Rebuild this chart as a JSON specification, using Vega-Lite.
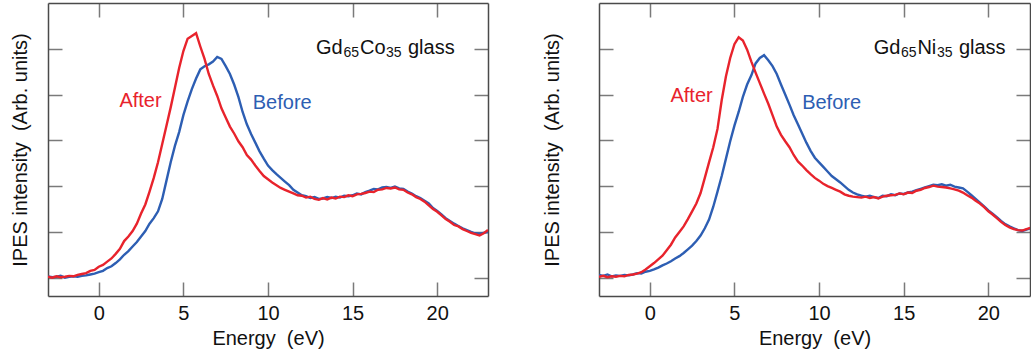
{
  "$schema": "https://vega.github.io/schema/vega-lite/v6.json",
  "padding": {"left": 10, "top": 2, "right": 0, "bottom": 0},
  "spacing": 53,
  "config": {
    "font": "Liberation Sans",
    "view": {"stroke": null},
    "axis": {"grid": false, "tickSize": -14, "tickColor": "#7a7a7a", "tickWidth": 1.5, "domainColor": "#4a4a4a", "domainWidth": 1.5, "labelFontSize": 20, "labelColor": "#111", "titleFontSize": 20, "titleFontWeight": "normal", "titleColor": "#111"}
  },
  "datasets": {
    "co": [
      {"e":-3,"After":0.02,"Before":0.03},{"e":-2.75,"After":0.00,"Before":0.01},{"e":-2.5,"After":0.03,"Before":0.02},{"e":-2.25,"After":0.01,"Before":0.04},
      {"e":-2,"After":0.02,"Before":0.00},{"e":-1.75,"After":0.04,"Before":0.02},{"e":-1.5,"After":0.03,"Before":0.03},{"e":-1.25,"After":0.06,"Before":0.02},
      {"e":-1,"After":0.08,"Before":0.04},{"e":-0.75,"After":0.10,"Before":0.05},{"e":-0.5,"After":0.15,"Before":0.07},{"e":-0.25,"After":0.17,"Before":0.09},
      {"e":0,"After":0.24,"Before":0.12},{"e":0.25,"After":0.28,"Before":0.15},{"e":0.5,"After":0.35,"Before":0.21},{"e":0.75,"After":0.42,"Before":0.25},
      {"e":1,"After":0.52,"Before":0.32},{"e":1.25,"After":0.63,"Before":0.40},{"e":1.5,"After":0.80,"Before":0.50},{"e":1.75,"After":0.90,"Before":0.58},
      {"e":2,"After":1.02,"Before":0.68},{"e":2.25,"After":1.18,"Before":0.78},{"e":2.5,"After":1.40,"Before":0.90},{"e":2.75,"After":1.60,"Before":1.02},
      {"e":3,"After":1.88,"Before":1.18},{"e":3.25,"After":2.18,"Before":1.30},{"e":3.5,"After":2.52,"Before":1.45},{"e":3.75,"After":2.92,"Before":1.72},
      {"e":4,"After":3.32,"Before":2.12},{"e":4.25,"After":3.72,"Before":2.52},{"e":4.5,"After":4.15,"Before":2.88},{"e":4.75,"After":4.58,"Before":3.18},
      {"e":5,"After":4.95,"Before":3.55},{"e":5.25,"After":5.22,"Before":3.85},{"e":5.5,"After":5.28,"Before":4.12},{"e":5.75,"After":5.34,"Before":4.35},
      {"e":6,"After":5.05,"Before":4.55},{"e":6.25,"After":4.78,"Before":4.62},{"e":6.5,"After":4.45,"Before":4.66},{"e":6.75,"After":4.20,"Before":4.72},
      {"e":7,"After":3.97,"Before":4.82},{"e":7.25,"After":3.70,"Before":4.78},{"e":7.5,"After":3.50,"Before":4.62},{"e":7.75,"After":3.30,"Before":4.45},
      {"e":8,"After":3.15,"Before":4.22},{"e":8.25,"After":2.98,"Before":3.95},{"e":8.5,"After":2.85,"Before":3.62},{"e":8.75,"After":2.68,"Before":3.35},
      {"e":9,"After":2.58,"Before":3.14},{"e":9.25,"After":2.45,"Before":2.95},{"e":9.5,"After":2.33,"Before":2.76},{"e":9.75,"After":2.22,"Before":2.60},
      {"e":10,"After":2.15,"Before":2.45},{"e":10.25,"After":2.08,"Before":2.35},{"e":10.5,"After":2.02,"Before":2.26},{"e":10.75,"After":1.96,"Before":2.18},
      {"e":11,"After":1.92,"Before":2.10},{"e":11.25,"After":1.88,"Before":2.02},{"e":11.5,"After":1.84,"Before":1.92},{"e":11.75,"After":1.80,"Before":1.86},
      {"e":12,"After":1.79,"Before":1.80},{"e":12.25,"After":1.75,"Before":1.78},{"e":12.5,"After":1.77,"Before":1.74},{"e":12.75,"After":1.72,"Before":1.76},
      {"e":13,"After":1.70,"Before":1.72},{"e":13.25,"After":1.74,"Before":1.73},{"e":13.5,"After":1.71,"Before":1.76},{"e":13.75,"After":1.75,"Before":1.74},
      {"e":14,"After":1.73,"Before":1.77},{"e":14.25,"After":1.77,"Before":1.75},{"e":14.5,"After":1.76,"Before":1.79},{"e":14.75,"After":1.80,"Before":1.78},
      {"e":15,"After":1.78,"Before":1.80},{"e":15.25,"After":1.82,"Before":1.84},{"e":15.5,"After":1.83,"Before":1.82},{"e":15.75,"After":1.85,"Before":1.87},
      {"e":16,"After":1.88,"Before":1.90},{"e":16.25,"After":1.87,"Before":1.94},{"e":16.5,"After":1.92,"Before":1.93},{"e":16.75,"After":1.93,"Before":1.97},
      {"e":17,"After":1.96,"Before":1.98},{"e":17.25,"After":1.95,"Before":1.96},{"e":17.5,"After":1.97,"Before":1.99},{"e":17.75,"After":1.93,"Before":1.95},
      {"e":18,"After":1.92,"Before":1.94},{"e":18.25,"After":1.86,"Before":1.88},{"e":18.5,"After":1.82,"Before":1.84},{"e":18.75,"After":1.76,"Before":1.78},
      {"e":19,"After":1.72,"Before":1.74},{"e":19.25,"After":1.66,"Before":1.68},{"e":19.5,"After":1.58,"Before":1.62},{"e":19.75,"After":1.50,"Before":1.52},
      {"e":20,"After":1.44,"Before":1.46},{"e":20.25,"After":1.36,"Before":1.38},{"e":20.5,"After":1.28,"Before":1.30},{"e":20.75,"After":1.22,"Before":1.24},
      {"e":21,"After":1.15,"Before":1.18},{"e":21.25,"After":1.12,"Before":1.13},{"e":21.5,"After":1.06,"Before":1.08},{"e":21.75,"After":1.02,"Before":1.04},
      {"e":22,"After":0.98,"Before":1.00},{"e":22.25,"After":0.95,"Before":0.97},{"e":22.5,"After":0.92,"Before":0.96},{"e":22.75,"After":0.97,"Before":0.98},
      {"e":23,"After":1.04,"Before":1.00}
    ],
    "ni": [
      {"e":-3,"After":0.02,"Before":0.06},{"e":-2.75,"After":0.04,"Before":0.04},{"e":-2.5,"After":0.01,"Before":0.07},{"e":-2.25,"After":0.03,"Before":0.03},
      {"e":-2,"After":0.02,"Before":0.05},{"e":-1.75,"After":0.04,"Before":0.04},{"e":-1.5,"After":0.03,"Before":0.06},{"e":-1.25,"After":0.06,"Before":0.05},
      {"e":-1,"After":0.07,"Before":0.07},{"e":-0.75,"After":0.09,"Before":0.10},{"e":-0.5,"After":0.12,"Before":0.09},{"e":-0.25,"After":0.18,"Before":0.13},
      {"e":0,"After":0.25,"Before":0.15},{"e":0.25,"After":0.32,"Before":0.18},{"e":0.5,"After":0.40,"Before":0.22},{"e":0.75,"After":0.48,"Before":0.27},
      {"e":1,"After":0.60,"Before":0.31},{"e":1.25,"After":0.72,"Before":0.36},{"e":1.5,"After":0.88,"Before":0.42},{"e":1.75,"After":1.00,"Before":0.47},
      {"e":2,"After":1.12,"Before":0.54},{"e":2.25,"After":1.28,"Before":0.62},{"e":2.5,"After":1.45,"Before":0.70},{"e":2.75,"After":1.62,"Before":0.80},
      {"e":3,"After":1.85,"Before":0.92},{"e":3.25,"After":2.18,"Before":1.08},{"e":3.5,"After":2.52,"Before":1.27},{"e":3.75,"After":2.85,"Before":1.55},
      {"e":4,"After":3.25,"Before":1.88},{"e":4.25,"After":3.88,"Before":2.22},{"e":4.5,"After":4.40,"Before":2.60},{"e":4.75,"After":4.80,"Before":2.98},
      {"e":5,"After":5.10,"Before":3.32},{"e":5.25,"After":5.25,"Before":3.62},{"e":5.5,"After":5.18,"Before":3.95},{"e":5.75,"After":4.98,"Before":4.22},
      {"e":6,"After":4.72,"Before":4.42},{"e":6.25,"After":4.48,"Before":4.68},{"e":6.5,"After":4.25,"Before":4.80},{"e":6.75,"After":4.02,"Before":4.86},
      {"e":7,"After":3.80,"Before":4.75},{"e":7.25,"After":3.55,"Before":4.62},{"e":7.5,"After":3.30,"Before":4.45},{"e":7.75,"After":3.12,"Before":4.22},
      {"e":8,"After":2.98,"Before":4.00},{"e":8.25,"After":2.85,"Before":3.78},{"e":8.5,"After":2.68,"Before":3.55},{"e":8.75,"After":2.54,"Before":3.35},
      {"e":9,"After":2.45,"Before":3.15},{"e":9.25,"After":2.35,"Before":2.95},{"e":9.5,"After":2.26,"Before":2.77},{"e":9.75,"After":2.18,"Before":2.62},
      {"e":10,"After":2.12,"Before":2.52},{"e":10.25,"After":2.05,"Before":2.42},{"e":10.5,"After":2.00,"Before":2.32},{"e":10.75,"After":1.96,"Before":2.22},
      {"e":11,"After":1.92,"Before":2.15},{"e":11.25,"After":1.88,"Before":2.08},{"e":11.5,"After":1.82,"Before":2.00},{"e":11.75,"After":1.79,"Before":1.92},
      {"e":12,"After":1.77,"Before":1.86},{"e":12.25,"After":1.76,"Before":1.82},{"e":12.5,"After":1.75,"Before":1.79},{"e":12.75,"After":1.77,"Before":1.77},
      {"e":13,"After":1.74,"Before":1.79},{"e":13.25,"After":1.76,"Before":1.76},{"e":13.5,"After":1.73,"Before":1.74},{"e":13.75,"After":1.77,"Before":1.79},
      {"e":14,"After":1.79,"Before":1.78},{"e":14.25,"After":1.80,"Before":1.82},{"e":14.5,"After":1.81,"Before":1.80},{"e":14.75,"After":1.84,"Before":1.84},
      {"e":15,"After":1.82,"Before":1.83},{"e":15.25,"After":1.86,"Before":1.86},{"e":15.5,"After":1.85,"Before":1.88},{"e":15.75,"After":1.90,"Before":1.91},
      {"e":16,"After":1.92,"Before":1.94},{"e":16.25,"After":1.96,"Before":1.97},{"e":16.5,"After":1.98,"Before":2.00},{"e":16.75,"After":2.01,"Before":2.03},
      {"e":17,"After":1.99,"Before":2.02},{"e":17.25,"After":1.98,"Before":2.04},{"e":17.5,"After":1.97,"Before":2.01},{"e":17.75,"After":1.95,"Before":2.03},
      {"e":18,"After":1.93,"Before":1.99},{"e":18.25,"After":1.90,"Before":1.97},{"e":18.5,"After":1.86,"Before":1.95},{"e":18.75,"After":1.80,"Before":1.88},
      {"e":19,"After":1.75,"Before":1.80},{"e":19.25,"After":1.68,"Before":1.72},{"e":19.5,"After":1.62,"Before":1.64},{"e":19.75,"After":1.54,"Before":1.56},
      {"e":20,"After":1.45,"Before":1.47},{"e":20.25,"After":1.38,"Before":1.40},{"e":20.5,"After":1.30,"Before":1.32},{"e":20.75,"After":1.22,"Before":1.24},
      {"e":21,"After":1.15,"Before":1.17},{"e":21.25,"After":1.10,"Before":1.12},{"e":21.5,"After":1.06,"Before":1.08},{"e":21.75,"After":1.04,"Before":1.04},
      {"e":22,"After":1.03,"Before":1.02},{"e":22.25,"After":1.06,"Before":1.05},{"e":22.5,"After":1.09,"Before":1.08}
    ],
    "lab": [
      {"p":"co","t":"After","e":1.22,"v":3.72},
      {"p":"co","t":"Before","e":9.1,"v":3.68},
      {"p":"ni","t":"After","e":1.22,"v":3.83},
      {"p":"ni","t":"Before","e":9.0,"v":3.68}
    ],
    "ann": [
      {"p":"co","k":"m","t":"Gd","e":12.84,"v":4.89},
      {"p":"co","k":"s","t":"65","e":14.46,"v":4.83},
      {"p":"co","k":"m","t":"Co","e":15.44,"v":4.89},
      {"p":"co","k":"s","t":"35","e":16.97,"v":4.83},
      {"p":"co","k":"m","t":"glass","e":18.27,"v":4.89},
      {"p":"ni","k":"m","t":"Gd","e":13.23,"v":4.89},
      {"p":"ni","k":"s","t":"65","e":14.84,"v":4.83},
      {"p":"ni","k":"m","t":"Ni","e":15.81,"v":4.89},
      {"p":"ni","k":"s","t":"35","e":16.96,"v":4.83},
      {"p":"ni","k":"m","t":"glass","e":18.26,"v":4.89}
    ]
  },
  "hconcat": [
    {
      "width": 440,
      "height": 293,
      "resolve": {"axis": {"x": "independent", "y": "independent"}},
      "layer": [
        {
          "data": {"name": "co"},
          "transform": [{"fold": ["Before", "After"], "as": ["series", "v"]}],
          "mark": {"type": "line", "strokeWidth": 2.4, "clip": true},
          "encoding": {
            "x": {"field": "e", "type": "quantitative", "scale": {"domain": [-3, 23], "nice": false, "zero": false},
                  "axis": {"orient": "bottom", "values": [0, 5, 10, 15, 20], "labelPadding": 21.5, "title": "Energy \u00a0(eV)", "titlePadding": 5}},
            "y": {"field": "v", "type": "quantitative", "scale": {"domain": [-0.4, 6], "nice": false, "zero": false},
                  "axis": {"orient": "left", "values": [0, 1, 2, 3, 4, 5], "labels": false, "title": "IPES intensity \u00a0(Arb. units)", "titlePadding": 16.5}},
            "color": {"field": "series", "type": "nominal", "scale": {"domain": ["After", "Before"], "range": ["#e8232c", "#2d5eb3"]}, "legend": null}
          }
        },
        {
          "data": {"name": "lab"},
          "transform": [{"filter": "datum.p === 'co'"}],
          "mark": {"type": "text", "align": "left", "baseline": "alphabetic", "fontSize": 20},
          "encoding": {
            "x": {"field": "e", "type": "quantitative", "axis": {"orient": "top", "values": [0, 5, 10, 15, 20], "labels": false, "title": null}},
            "y": {"field": "v", "type": "quantitative", "axis": {"orient": "right", "values": [0, 1, 2, 3, 4, 5], "labels": false, "title": null}},
            "text": {"field": "t"},
            "color": {"field": "t", "type": "nominal", "legend": null}
          }
        },
        {
          "data": {"name": "ann"},
          "transform": [{"filter": "datum.p === 'co' && datum.k === 'm'"}],
          "mark": {"type": "text", "align": "left", "baseline": "alphabetic", "fontSize": 20, "color": "#111"},
          "encoding": {
            "x": {"field": "e", "type": "quantitative", "axis": null},
            "y": {"field": "v", "type": "quantitative", "axis": null},
            "text": {"field": "t"}
          }
        },
        {
          "data": {"name": "ann"},
          "transform": [{"filter": "datum.p === 'co' && datum.k === 's'"}],
          "mark": {"type": "text", "align": "left", "baseline": "alphabetic", "fontSize": 14, "color": "#111"},
          "encoding": {
            "x": {"field": "e", "type": "quantitative", "axis": null},
            "y": {"field": "v", "type": "quantitative", "axis": null},
            "text": {"field": "t"}
          }
        }
      ]
    },
    {
      "width": 431,
      "height": 293,
      "resolve": {"axis": {"x": "independent", "y": "independent"}},
      "layer": [
        {
          "data": {"name": "ni"},
          "transform": [{"fold": ["Before", "After"], "as": ["series", "v"]}],
          "mark": {"type": "line", "strokeWidth": 2.4, "clip": true},
          "encoding": {
            "x": {"field": "e", "type": "quantitative", "scale": {"domain": [-3, 22.46], "nice": false, "zero": false},
                  "axis": {"orient": "bottom", "values": [0, 5, 10, 15, 20], "labelPadding": 21.5, "title": "Energy \u00a0(eV)", "titlePadding": 5}},
            "y": {"field": "v", "type": "quantitative", "scale": {"domain": [-0.4, 6], "nice": false, "zero": false},
                  "axis": {"orient": "left", "values": [0, 1, 2, 3, 4, 5], "labels": false, "title": "IPES intensity \u00a0(Arb. units)", "titlePadding": 35.5}},
            "color": {"field": "series", "type": "nominal", "scale": {"domain": ["After", "Before"], "range": ["#e8232c", "#2d5eb3"]}, "legend": null}
          }
        },
        {
          "data": {"name": "lab"},
          "transform": [{"filter": "datum.p === 'ni'"}],
          "mark": {"type": "text", "align": "left", "baseline": "alphabetic", "fontSize": 20},
          "encoding": {
            "x": {"field": "e", "type": "quantitative", "axis": {"orient": "top", "values": [0, 5, 10, 15, 20], "labels": false, "title": null}},
            "y": {"field": "v", "type": "quantitative", "axis": {"orient": "right", "values": [0, 1, 2, 3, 4, 5], "labels": false, "title": null}},
            "text": {"field": "t"},
            "color": {"field": "t", "type": "nominal", "legend": null}
          }
        },
        {
          "data": {"name": "ann"},
          "transform": [{"filter": "datum.p === 'ni' && datum.k === 'm'"}],
          "mark": {"type": "text", "align": "left", "baseline": "alphabetic", "fontSize": 20, "color": "#111"},
          "encoding": {
            "x": {"field": "e", "type": "quantitative", "axis": null},
            "y": {"field": "v", "type": "quantitative", "axis": null},
            "text": {"field": "t"}
          }
        },
        {
          "data": {"name": "ann"},
          "transform": [{"filter": "datum.p === 'ni' && datum.k === 's'"}],
          "mark": {"type": "text", "align": "left", "baseline": "alphabetic", "fontSize": 14, "color": "#111"},
          "encoding": {
            "x": {"field": "e", "type": "quantitative", "axis": null},
            "y": {"field": "v", "type": "quantitative", "axis": null},
            "text": {"field": "t"}
          }
        }
      ]
    }
  ]
}
